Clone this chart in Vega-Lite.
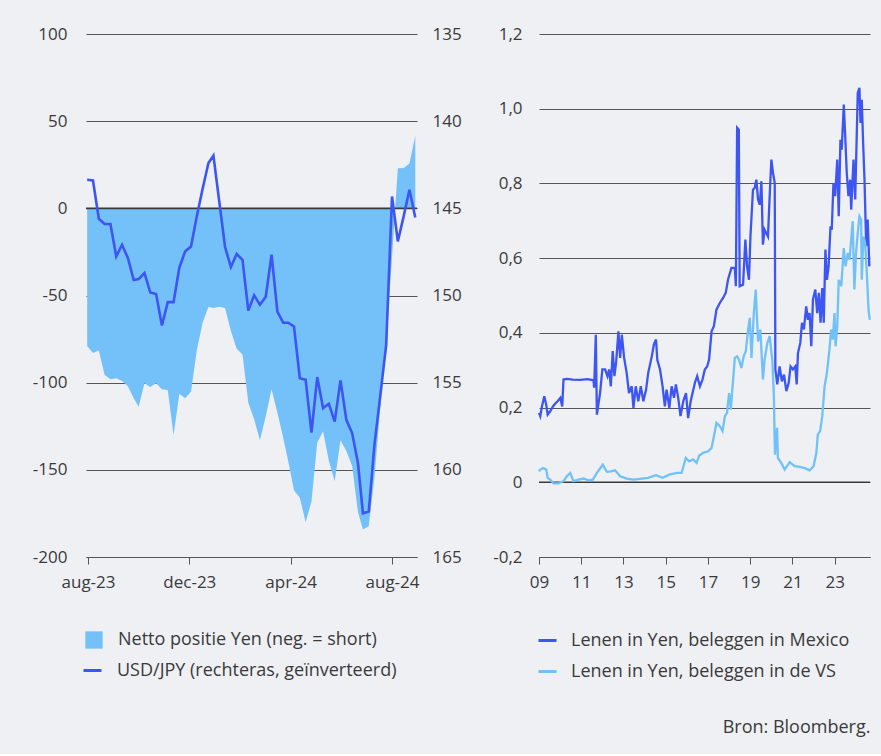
{
  "$schema": "https://vega.github.io/schema/vega-lite/v6.json",
  "background": "#EFF0F4",
  "padding": {"left": 32, "top": 25, "right": 11, "bottom": 17},
  "bounds": "flush",
  "spacing": 122,
  "resolve": {"scale": {"stroke": "independent", "fill": "independent"}, "legend": {"stroke": "independent", "fill": "independent"}},
  "config": {
    "font": "Open Sans",
    "view": {"stroke": null},
    "axis": {"labelFont": "Open Sans", "labelFontSize": 17, "labelColor": "#3a3a3a", "domainColor": "#555555", "tickColor": "#555555", "gridColor": "#555555", "gridWidth": 1, "labelFlush": false},
    "legend": {"labelFont": "Open Sans", "labelFontSize": 18, "labelColor": "#3a3a3a", "padding": 0, "labelLimit": 500}
  },
  "title": {"text": "Bron: Bloomberg.", "orient": "bottom", "anchor": "end", "fontSize": 18, "fontWeight": "normal", "font": "Open Sans", "color": "#3a3a3a", "offset": 38, "dx": -4},
  "datasets": {
    "yen": [
      {"date": "2023-07-31", "netto": -79, "jpy": 143.36},
      {"date": "2023-08-07", "netto": -83, "jpy": 143.40},
      {"date": "2023-08-14", "netto": -81.5, "jpy": 145.6},
      {"date": "2023-08-21", "netto": -95.6, "jpy": 145.9},
      {"date": "2023-08-28", "netto": -98, "jpy": 145.9},
      {"date": "2023-09-04", "netto": -97.5, "jpy": 147.76},
      {"date": "2023-09-11", "netto": -99, "jpy": 147.09},
      {"date": "2023-09-18", "netto": -102, "jpy": 147.85},
      {"date": "2023-09-25", "netto": -109, "jpy": 149.11},
      {"date": "2023-10-01", "netto": -113.8, "jpy": 149.06},
      {"date": "2023-10-08", "netto": -100.4, "jpy": 148.71},
      {"date": "2023-10-15", "netto": -102.5, "jpy": 149.83},
      {"date": "2023-10-22", "netto": -100.4, "jpy": 149.92},
      {"date": "2023-10-29", "netto": -103.8, "jpy": 151.72},
      {"date": "2023-11-05", "netto": -104.2, "jpy": 150.38},
      {"date": "2023-11-12", "netto": -130.2, "jpy": 150.38},
      {"date": "2023-11-19", "netto": -106.3, "jpy": 148.39},
      {"date": "2023-11-26", "netto": -109, "jpy": 147.47},
      {"date": "2023-12-03", "netto": -105.2, "jpy": 147.19},
      {"date": "2023-12-10", "netto": -81.3, "jpy": 145.46},
      {"date": "2023-12-17", "netto": -65.6, "jpy": 143.88},
      {"date": "2023-12-24", "netto": -56.4, "jpy": 142.40},
      {"date": "2023-12-30", "netto": -57.2, "jpy": 141.98},
      {"date": "2024-01-06", "netto": -56.4, "jpy": 144.6},
      {"date": "2024-01-13", "netto": -57.2, "jpy": 147.22},
      {"date": "2024-01-20", "netto": -70.4, "jpy": 148.37},
      {"date": "2024-01-27", "netto": -80.5, "jpy": 147.62},
      {"date": "2024-02-03", "netto": -83.8, "jpy": 147.95},
      {"date": "2024-02-10", "netto": -111.5, "jpy": 150.86},
      {"date": "2024-02-17", "netto": -121, "jpy": 149.99},
      {"date": "2024-02-24", "netto": -133, "jpy": 150.53},
      {"date": "2024-03-02", "netto": -119.2, "jpy": 150.07},
      {"date": "2024-03-09", "netto": -103.8, "jpy": 147.66},
      {"date": "2024-03-16", "netto": -117.2, "jpy": 150.92},
      {"date": "2024-03-23", "netto": -131.6, "jpy": 151.56},
      {"date": "2024-03-29", "netto": -145, "jpy": 151.56},
      {"date": "2024-04-05", "netto": -161.8, "jpy": 151.78},
      {"date": "2024-04-12", "netto": -166, "jpy": 154.74},
      {"date": "2024-04-19", "netto": -180, "jpy": 154.83},
      {"date": "2024-04-26", "netto": -168.3, "jpy": 157.86},
      {"date": "2024-05-03", "netto": -134.4, "jpy": 154.68},
      {"date": "2024-05-10", "netto": -127.8, "jpy": 156.46},
      {"date": "2024-05-17", "netto": -145, "jpy": 156.21},
      {"date": "2024-05-24", "netto": -156.5, "jpy": 157.23},
      {"date": "2024-05-31", "netto": -133.1, "jpy": 154.87},
      {"date": "2024-06-07", "netto": -139.2, "jpy": 157.13},
      {"date": "2024-06-14", "netto": -147.8, "jpy": 157.89},
      {"date": "2024-06-21", "netto": -174.2, "jpy": 159.61},
      {"date": "2024-06-27", "netto": -184.2, "jpy": 162.49},
      {"date": "2024-07-04", "netto": -182.3, "jpy": 162.39},
      {"date": "2024-07-11", "netto": -153.6, "jpy": 158.5},
      {"date": "2024-07-18", "netto": -113.4, "jpy": 155.7},
      {"date": "2024-07-25", "netto": -76.9, "jpy": 152.83},
      {"date": "2024-08-01", "netto": -28, "jpy": 144.32},
      {"date": "2024-08-08", "netto": 23, "jpy": 146.9},
      {"date": "2024-08-15", "netto": 23.2, "jpy": 145.46},
      {"date": "2024-08-22", "netto": 25.7, "jpy": 143.93},
      {"date": "2024-08-29", "netto": 41.7, "jpy": 145.52}
    ],
    "carry": [
      {"t": 2009.00, "s": "MX", "v": 0.186},
      {"t": 2009.06, "s": "MX", "v": 0.177},
      {"t": 2009.14, "s": "MX", "v": 0.203},
      {"t": 2009.25, "s": "MX", "v": 0.23},
      {"t": 2009.34, "s": "MX", "v": 0.208},
      {"t": 2009.41, "s": "MX", "v": 0.181},
      {"t": 2009.53, "s": "MX", "v": 0.19},
      {"t": 2009.66, "s": "MX", "v": 0.203},
      {"t": 2009.77, "s": "MX", "v": 0.211},
      {"t": 2009.88, "s": "MX", "v": 0.217},
      {"t": 2010.01, "s": "MX", "v": 0.226},
      {"t": 2010.10, "s": "MX", "v": 0.203},
      {"t": 2010.16, "s": "MX", "v": 0.275},
      {"t": 2010.32, "s": "MX", "v": 0.277},
      {"t": 2010.60, "s": "MX", "v": 0.275},
      {"t": 2010.95, "s": "MX", "v": 0.274},
      {"t": 2011.30, "s": "MX", "v": 0.276},
      {"t": 2011.58, "s": "MX", "v": 0.273},
      {"t": 2011.61, "s": "MX", "v": 0.253},
      {"t": 2011.69, "s": "MX", "v": 0.395},
      {"t": 2011.74, "s": "MX", "v": 0.181},
      {"t": 2011.81, "s": "MX", "v": 0.208},
      {"t": 2011.89, "s": "MX", "v": 0.239},
      {"t": 2012.00, "s": "MX", "v": 0.302},
      {"t": 2012.13, "s": "MX", "v": 0.302},
      {"t": 2012.24, "s": "MX", "v": 0.284},
      {"t": 2012.32, "s": "MX", "v": 0.302},
      {"t": 2012.40, "s": "MX", "v": 0.257},
      {"t": 2012.49, "s": "MX", "v": 0.351},
      {"t": 2012.57, "s": "MX", "v": 0.284},
      {"t": 2012.65, "s": "MX", "v": 0.32},
      {"t": 2012.76, "s": "MX", "v": 0.404},
      {"t": 2012.84, "s": "MX", "v": 0.333},
      {"t": 2012.92, "s": "MX", "v": 0.395},
      {"t": 2013.03, "s": "MX", "v": 0.333},
      {"t": 2013.15, "s": "MX", "v": 0.293},
      {"t": 2013.26, "s": "MX", "v": 0.239},
      {"t": 2013.39, "s": "MX", "v": 0.257},
      {"t": 2013.47, "s": "MX", "v": 0.199},
      {"t": 2013.58, "s": "MX", "v": 0.257},
      {"t": 2013.70, "s": "MX", "v": 0.217},
      {"t": 2013.82, "s": "MX", "v": 0.257},
      {"t": 2013.94, "s": "MX", "v": 0.217},
      {"t": 2014.07, "s": "MX", "v": 0.248},
      {"t": 2014.17, "s": "MX", "v": 0.293},
      {"t": 2014.34, "s": "MX", "v": 0.337},
      {"t": 2014.44, "s": "MX", "v": 0.369},
      {"t": 2014.54, "s": "MX", "v": 0.382},
      {"t": 2014.60, "s": "MX", "v": 0.328},
      {"t": 2014.73, "s": "MX", "v": 0.302},
      {"t": 2014.85, "s": "MX", "v": 0.257},
      {"t": 2014.96, "s": "MX", "v": 0.203},
      {"t": 2015.04, "s": "MX", "v": 0.248},
      {"t": 2015.17, "s": "MX", "v": 0.199},
      {"t": 2015.28, "s": "MX", "v": 0.257},
      {"t": 2015.39, "s": "MX", "v": 0.226},
      {"t": 2015.48, "s": "MX", "v": 0.262},
      {"t": 2015.59, "s": "MX", "v": 0.226},
      {"t": 2015.70, "s": "MX", "v": 0.177},
      {"t": 2015.83, "s": "MX", "v": 0.217},
      {"t": 2015.96, "s": "MX", "v": 0.239},
      {"t": 2016.06, "s": "MX", "v": 0.172},
      {"t": 2016.18, "s": "MX", "v": 0.217},
      {"t": 2016.27, "s": "MX", "v": 0.239},
      {"t": 2016.38, "s": "MX", "v": 0.266},
      {"t": 2016.49, "s": "MX", "v": 0.284},
      {"t": 2016.62, "s": "MX", "v": 0.257},
      {"t": 2016.74, "s": "MX", "v": 0.275},
      {"t": 2016.85, "s": "MX", "v": 0.302},
      {"t": 2016.96, "s": "MX", "v": 0.31},
      {"t": 2017.05, "s": "MX", "v": 0.328},
      {"t": 2017.17, "s": "MX", "v": 0.404},
      {"t": 2017.28, "s": "MX", "v": 0.418},
      {"t": 2017.40, "s": "MX", "v": 0.462},
      {"t": 2017.56, "s": "MX", "v": 0.48},
      {"t": 2017.72, "s": "MX", "v": 0.494},
      {"t": 2017.84, "s": "MX", "v": 0.507},
      {"t": 2017.95, "s": "MX", "v": 0.543},
      {"t": 2018.11, "s": "MX", "v": 0.574},
      {"t": 2018.27, "s": "MX", "v": 0.574},
      {"t": 2018.32, "s": "MX", "v": 0.525},
      {"t": 2018.38, "s": "MX", "v": 0.949},
      {"t": 2018.46, "s": "MX", "v": 0.944},
      {"t": 2018.50, "s": "MX", "v": 0.525},
      {"t": 2018.66, "s": "MX", "v": 0.529},
      {"t": 2018.77, "s": "MX", "v": 0.65},
      {"t": 2018.85, "s": "MX", "v": 0.578},
      {"t": 2018.94, "s": "MX", "v": 0.542},
      {"t": 2019.01, "s": "MX", "v": 0.658},
      {"t": 2019.13, "s": "MX", "v": 0.783},
      {"t": 2019.21, "s": "MX", "v": 0.788},
      {"t": 2019.29, "s": "MX", "v": 0.81},
      {"t": 2019.37, "s": "MX", "v": 0.757},
      {"t": 2019.45, "s": "MX", "v": 0.743},
      {"t": 2019.53, "s": "MX", "v": 0.806},
      {"t": 2019.60, "s": "MX", "v": 0.636},
      {"t": 2019.68, "s": "MX", "v": 0.676},
      {"t": 2019.84, "s": "MX", "v": 0.658},
      {"t": 2019.92, "s": "MX", "v": 0.766},
      {"t": 2020.00, "s": "MX", "v": 0.864},
      {"t": 2020.08, "s": "MX", "v": 0.828},
      {"t": 2020.16, "s": "MX", "v": 0.801},
      {"t": 2020.19, "s": "MX", "v": 0.302},
      {"t": 2020.28, "s": "MX", "v": 0.262},
      {"t": 2020.39, "s": "MX", "v": 0.31},
      {"t": 2020.50, "s": "MX", "v": 0.27},
      {"t": 2020.60, "s": "MX", "v": 0.288},
      {"t": 2020.71, "s": "MX", "v": 0.244},
      {"t": 2020.82, "s": "MX", "v": 0.266},
      {"t": 2020.91, "s": "MX", "v": 0.31},
      {"t": 2021.02, "s": "MX", "v": 0.302},
      {"t": 2021.13, "s": "MX", "v": 0.31},
      {"t": 2021.20, "s": "MX", "v": 0.262},
      {"t": 2021.26, "s": "MX", "v": 0.346},
      {"t": 2021.37, "s": "MX", "v": 0.373},
      {"t": 2021.45, "s": "MX", "v": 0.427},
      {"t": 2021.54, "s": "MX", "v": 0.409},
      {"t": 2021.65, "s": "MX", "v": 0.471},
      {"t": 2021.73, "s": "MX", "v": 0.435},
      {"t": 2021.81, "s": "MX", "v": 0.453},
      {"t": 2021.89, "s": "MX", "v": 0.364},
      {"t": 2021.97, "s": "MX", "v": 0.489},
      {"t": 2022.08, "s": "MX", "v": 0.516},
      {"t": 2022.17, "s": "MX", "v": 0.453},
      {"t": 2022.25, "s": "MX", "v": 0.507},
      {"t": 2022.33, "s": "MX", "v": 0.427},
      {"t": 2022.41, "s": "MX", "v": 0.52},
      {"t": 2022.48, "s": "MX", "v": 0.427},
      {"t": 2022.56, "s": "MX", "v": 0.623},
      {"t": 2022.63, "s": "MX", "v": 0.542},
      {"t": 2022.71, "s": "MX", "v": 0.578},
      {"t": 2022.80, "s": "MX", "v": 0.685},
      {"t": 2022.86, "s": "MX", "v": 0.676},
      {"t": 2022.94, "s": "MX", "v": 0.801},
      {"t": 2023.02, "s": "MX", "v": 0.766},
      {"t": 2023.12, "s": "MX", "v": 0.864},
      {"t": 2023.19, "s": "MX", "v": 0.712},
      {"t": 2023.27, "s": "MX", "v": 0.917},
      {"t": 2023.33, "s": "MX", "v": 0.89},
      {"t": 2023.43, "s": "MX", "v": 1.011},
      {"t": 2023.49, "s": "MX", "v": 0.935},
      {"t": 2023.57, "s": "MX", "v": 0.828},
      {"t": 2023.65, "s": "MX", "v": 0.766},
      {"t": 2023.73, "s": "MX", "v": 0.81},
      {"t": 2023.78, "s": "MX", "v": 0.73},
      {"t": 2023.89, "s": "MX", "v": 0.864},
      {"t": 2023.97, "s": "MX", "v": 0.757},
      {"t": 2024.09, "s": "MX", "v": 1.042},
      {"t": 2024.17, "s": "MX", "v": 1.056},
      {"t": 2024.22, "s": "MX", "v": 0.962},
      {"t": 2024.28, "s": "MX", "v": 1.024},
      {"t": 2024.35, "s": "MX", "v": 0.9},
      {"t": 2024.41, "s": "MX", "v": 0.81},
      {"t": 2024.49, "s": "MX", "v": 0.632},
      {"t": 2024.56, "s": "MX", "v": 0.703},
      {"t": 2024.64, "s": "MX", "v": 0.578},
      {"t": 2009.00, "s": "US", "v": 0.029},
      {"t": 2009.06, "s": "US", "v": 0.034},
      {"t": 2009.19, "s": "US", "v": 0.038},
      {"t": 2009.34, "s": "US", "v": 0.034},
      {"t": 2009.41, "s": "US", "v": 0.012},
      {"t": 2009.53, "s": "US", "v": 0.007},
      {"t": 2009.69, "s": "US", "v": -0.003},
      {"t": 2009.93, "s": "US", "v": -0.003},
      {"t": 2010.16, "s": "US", "v": 0.003},
      {"t": 2010.32, "s": "US", "v": 0.016},
      {"t": 2010.48, "s": "US", "v": 0.025},
      {"t": 2010.63, "s": "US", "v": 0.003},
      {"t": 2010.87, "s": "US", "v": 0.007},
      {"t": 2011.11, "s": "US", "v": 0.01},
      {"t": 2011.34, "s": "US", "v": 0.005},
      {"t": 2011.55, "s": "US", "v": 0.007},
      {"t": 2011.74, "s": "US", "v": 0.025},
      {"t": 2012.02, "s": "US", "v": 0.047},
      {"t": 2012.21, "s": "US", "v": 0.028},
      {"t": 2012.40, "s": "US", "v": 0.029},
      {"t": 2012.60, "s": "US", "v": 0.032},
      {"t": 2012.84, "s": "US", "v": 0.016},
      {"t": 2013.15, "s": "US", "v": 0.01},
      {"t": 2013.47, "s": "US", "v": 0.007},
      {"t": 2013.78, "s": "US", "v": 0.009},
      {"t": 2014.17, "s": "US", "v": 0.012},
      {"t": 2014.54, "s": "US", "v": 0.019},
      {"t": 2014.85, "s": "US", "v": 0.012},
      {"t": 2015.20, "s": "US", "v": 0.021},
      {"t": 2015.54, "s": "US", "v": 0.025},
      {"t": 2015.75, "s": "US", "v": 0.025},
      {"t": 2015.95, "s": "US", "v": 0.065},
      {"t": 2016.11, "s": "US", "v": 0.056},
      {"t": 2016.30, "s": "US", "v": 0.061},
      {"t": 2016.46, "s": "US", "v": 0.052},
      {"t": 2016.58, "s": "US", "v": 0.071},
      {"t": 2016.77, "s": "US", "v": 0.079},
      {"t": 2017.01, "s": "US", "v": 0.083},
      {"t": 2017.17, "s": "US", "v": 0.092},
      {"t": 2017.28, "s": "US", "v": 0.123},
      {"t": 2017.40, "s": "US", "v": 0.159},
      {"t": 2017.56, "s": "US", "v": 0.15},
      {"t": 2017.69, "s": "US", "v": 0.137},
      {"t": 2017.80, "s": "US", "v": 0.177},
      {"t": 2017.90, "s": "US", "v": 0.186},
      {"t": 2018.00, "s": "US", "v": 0.239},
      {"t": 2018.08, "s": "US", "v": 0.195},
      {"t": 2018.19, "s": "US", "v": 0.275},
      {"t": 2018.27, "s": "US", "v": 0.333},
      {"t": 2018.38, "s": "US", "v": 0.337},
      {"t": 2018.47, "s": "US", "v": 0.328},
      {"t": 2018.58, "s": "US", "v": 0.306},
      {"t": 2018.69, "s": "US", "v": 0.337},
      {"t": 2018.79, "s": "US", "v": 0.351},
      {"t": 2018.90, "s": "US", "v": 0.409},
      {"t": 2018.98, "s": "US", "v": 0.44},
      {"t": 2019.06, "s": "US", "v": 0.333},
      {"t": 2019.17, "s": "US", "v": 0.453},
      {"t": 2019.26, "s": "US", "v": 0.516},
      {"t": 2019.37, "s": "US", "v": 0.377},
      {"t": 2019.48, "s": "US", "v": 0.409},
      {"t": 2019.60, "s": "US", "v": 0.275},
      {"t": 2019.68, "s": "US", "v": 0.328},
      {"t": 2019.81, "s": "US", "v": 0.373},
      {"t": 2019.92, "s": "US", "v": 0.391},
      {"t": 2020.05, "s": "US", "v": 0.324},
      {"t": 2020.12, "s": "US", "v": 0.23},
      {"t": 2020.17, "s": "US", "v": 0.074},
      {"t": 2020.27, "s": "US", "v": 0.146},
      {"t": 2020.31, "s": "US", "v": 0.065},
      {"t": 2020.47, "s": "US", "v": 0.052},
      {"t": 2020.63, "s": "US", "v": 0.034},
      {"t": 2020.87, "s": "US", "v": 0.054},
      {"t": 2021.10, "s": "US", "v": 0.043},
      {"t": 2021.34, "s": "US", "v": 0.041},
      {"t": 2021.58, "s": "US", "v": 0.038},
      {"t": 2021.81, "s": "US", "v": 0.032},
      {"t": 2022.00, "s": "US", "v": 0.043},
      {"t": 2022.13, "s": "US", "v": 0.079},
      {"t": 2022.20, "s": "US", "v": 0.128},
      {"t": 2022.31, "s": "US", "v": 0.137},
      {"t": 2022.41, "s": "US", "v": 0.177},
      {"t": 2022.52, "s": "US", "v": 0.257},
      {"t": 2022.63, "s": "US", "v": 0.293},
      {"t": 2022.75, "s": "US", "v": 0.355},
      {"t": 2022.83, "s": "US", "v": 0.409},
      {"t": 2022.91, "s": "US", "v": 0.382},
      {"t": 2022.99, "s": "US", "v": 0.453},
      {"t": 2023.04, "s": "US", "v": 0.364},
      {"t": 2023.12, "s": "US", "v": 0.418},
      {"t": 2023.19, "s": "US", "v": 0.542},
      {"t": 2023.31, "s": "US", "v": 0.525},
      {"t": 2023.43, "s": "US", "v": 0.627},
      {"t": 2023.51, "s": "US", "v": 0.578},
      {"t": 2023.62, "s": "US", "v": 0.614},
      {"t": 2023.70, "s": "US", "v": 0.596},
      {"t": 2023.78, "s": "US", "v": 0.65},
      {"t": 2023.85, "s": "US", "v": 0.699},
      {"t": 2023.93, "s": "US", "v": 0.516},
      {"t": 2024.01, "s": "US", "v": 0.614},
      {"t": 2024.09, "s": "US", "v": 0.668},
      {"t": 2024.17, "s": "US", "v": 0.712},
      {"t": 2024.25, "s": "US", "v": 0.703},
      {"t": 2024.28, "s": "US", "v": 0.542},
      {"t": 2024.36, "s": "US", "v": 0.658},
      {"t": 2024.44, "s": "US", "v": 0.641},
      {"t": 2024.52, "s": "US", "v": 0.56},
      {"t": 2024.60, "s": "US", "v": 0.462},
      {"t": 2024.66, "s": "US", "v": 0.435}
    ]
  },
  "hconcat": [
    {
      "width": 331,
      "height": 523,
      "data": {"name": "yen"},
      "layer": [
        {
          "layer": [
            {
              "mark": {"type": "area"},
              "encoding": {
                "x": {"field": "date", "type": "temporal", "title": null,
                  "scale": {"type": "utc", "domain": [{"year": 2023, "month": 7, "date": 29, "hours": 14, "utc": true}, {"year": 2024, "month": 8, "date": 31, "hours": 2, "utc": true}]},
                  "axis": {"values": [{"year": 2023, "month": 8, "date": 1, "utc": true}, {"year": 2023, "month": 12, "date": 1, "utc": true}, {"year": 2024, "month": 4, "date": 1, "utc": true}, {"year": 2024, "month": 8, "date": 1, "utc": true}], "labelExpr": "lower(utcFormat(datum.value, '%b-%y'))", "grid": false, "tickSize": 7, "labelPadding": 10}},
                "y": {"field": "netto", "type": "quantitative", "title": null,
                  "scale": {"domain": [-200, 100], "nice": false, "zero": false},
                  "axis": {"values": [-200, -150, -100, -50, 0, 50, 100], "labelExpr": "datum.value + ''", "ticks": false, "domain": false, "labelPadding": 19, "grid": true}},
                "fill": {"datum": "Netto positie Yen (neg. = short)", "type": "nominal", "scale": {"range": ["#74C1F9"]},
                  "legend": {"title": null, "orient": "none", "legendX": -1, "legendY": 597, "symbolType": "square", "symbolSize": 300, "symbolStrokeWidth": 0, "labelOffset": 15}}
              }
            },
            {
              "data": {"values": [{}]},
              "mark": {"type": "rule", "color": "#3a3a3a", "strokeWidth": 1.6},
              "encoding": {"y": {"datum": 0}}
            }
          ]
        },
        {
          "mark": {"type": "line", "strokeWidth": 2.6},
          "encoding": {
            "x": {"field": "date", "type": "temporal", "title": null},
            "y": {"field": "jpy", "type": "quantitative", "title": null,
              "scale": {"domain": [135, 165], "reverse": true, "nice": false, "zero": false},
              "axis": {"orient": "right", "values": [135, 140, 145, 150, 155, 160, 165], "grid": false, "ticks": false, "domain": false, "labelPadding": 15}},
            "stroke": {"datum": "USD/JPY (rechteras, geïnverteerd)", "type": "nominal", "scale": {"range": ["#3D55F2"]},
              "legend": {"title": null, "orient": "none", "legendX": -4, "legendY": 626, "symbolType": "stroke", "symbolSize": 324, "symbolStrokeWidth": 3, "labelOffset": 14}}
          }
        }
      ],
      "resolve": {"scale": {"y": "independent"}}
    },
    {
      "width": 331,
      "height": 523,
      "data": {"name": "carry"},
      "layer": [
        {
          "data": {"values": [{}]},
          "mark": {"type": "rule", "color": "#3a3a3a", "strokeWidth": 1.6},
          "encoding": {"y": {"datum": 0}}
        },
        {
          "mark": {"type": "line", "strokeWidth": 2.3},
          "encoding": {
            "x": {"field": "t", "type": "quantitative", "title": null,
              "scale": {"domain": [2009, 2024.67], "nice": false, "zero": false},
              "axis": {"values": [2009, 2011, 2013, 2015, 2017, 2019, 2021, 2023], "labelExpr": "slice(datum.value + '', 2)", "grid": false, "tickSize": 7, "labelPadding": 10}},
            "y": {"field": "v", "type": "quantitative", "title": null,
              "scale": {"domain": [-0.2, 1.2], "nice": false, "zero": false},
              "axis": {"values": [-0.2, 0, 0.2, 0.4, 0.6, 0.8, 1.0, 1.2], "labelExpr": "datum.value == 0 ? '0' : (datum.value < 0 ? '-' : '') + replace(format(abs(datum.value), '.1f'), '.', ',')", "ticks": false, "domain": false, "labelPadding": 17, "grid": true}},
            "stroke": {"field": "s", "type": "nominal", "scale": {"domain": ["MX", "US"], "range": ["#3D55F2", "#70C1F8"]},
              "legend": {"title": null, "orient": "none", "legendX": -2, "legendY": 596, "symbolType": "stroke", "symbolSize": 324, "symbolStrokeWidth": 3, "labelOffset": 13, "rowPadding": 11,
                "labelExpr": "datum.value == 'MX' ? 'Lenen in Yen, beleggen in Mexico' : 'Lenen in Yen, beleggen in de VS'"}}
          }
        }
      ]
    }
  ]
}
